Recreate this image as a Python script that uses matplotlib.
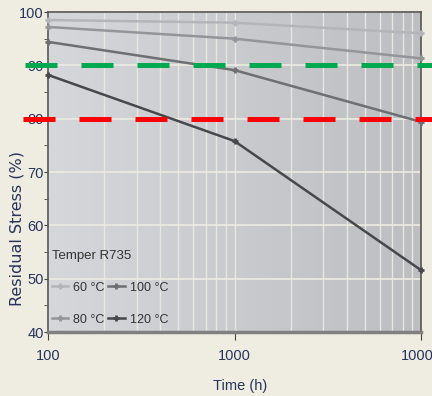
import numpy as np
import matplotlib
matplotlib.use("Agg")
import matplotlib.pyplot as plt
import matplotlib.transforms as mtransforms
from matplotlib.lines import Line2D
from matplotlib.ticker import FixedLocator, NullFormatter

# data
hours = [100, 1000, 10000]
temps = ["60 °C", "80 °C", "100 °C", "120 °C"]
stress_60 = [98.5, 98.0, 96.0]
stress_80 = [97.2, 95.0, 91.3]
stress_100 = [94.4, 89.1, 79.4]
stress_120 = [88.2, 75.8, 51.6]
limit_green = 90
limit_red = 80

colors = ["#b4b5b9", "#949599", "#6e6f73", "#47484c"]
series = [stress_60, stress_80, stress_100, stress_120]

plt.rcParams["font.family"] = ["Liberation Sans", "DejaVu Sans"]
navy = "#27355e"

fig = plt.figure(figsize=(4.32, 3.96), dpi=100, facecolor="#efece1")
ax = fig.add_axes([48 / 432, 64 / 396, 373 / 432, 320 / 396])

# grey gradient background
grad = np.linspace(0, 1, 256).reshape(1, -1)
ax.imshow(grad, extent=[0, 1, 0, 1], transform=ax.transAxes, aspect="auto",
          cmap=matplotlib.colors.LinearSegmentedColormap.from_list("bg", ["#d6d7db", "#bdbec2"]),
          zorder=0)

ax.set_xscale("log")
ax.set_xlim(100, 10000)
ax.set_ylim(40, 100)

ax.grid(which="both", axis="x", color="#e8e7de", lw=1.0, zorder=1)
ax.grid(which="major", axis="y", color="#ecebe2", lw=1.2, zorder=1)
ax.set_axisbelow(True)

for vals, c, lab in zip(series, colors, temps):
    ax.plot(hours, vals, color=c, lw=1.8, marker="+", ms=5, mew=2.0,
            label=lab, zorder=3, clip_on=False)

# dashed limit lines run across the whole figure width, over the tick labels
blend = mtransforms.blended_transform_factory(fig.transFigure, ax.transData)
fig.add_artist(Line2D([1 / 432, 1.02], [limit_green, limit_green], transform=blend,
                      color="#00a850", lw=3.6, linestyle=(6.4, (6.4, 4.8)),
                      dash_capstyle="butt", zorder=4))
fig.add_artist(Line2D([23 / 432, 1.02], [limit_red, limit_red], transform=blend,
                      color="#ff0000", lw=3.6, linestyle=(0, (6.4, 4.8)),
                      dash_capstyle="butt", zorder=4))

ax.set_yticks(range(40, 101, 10))
ax.yaxis.set_minor_locator(FixedLocator(range(45, 100, 10)))
ax.xaxis.set_minor_formatter(NullFormatter())
ax.set_xticks(hours)
ax.set_xticklabels(["100", "1000", "10000"])
ax.tick_params(axis="both", which="major", labelsize=10.5, labelcolor=navy,
               color="#444444", direction="out", length=3)
ax.tick_params(axis="y", which="minor", color="#444444", direction="out", length=3)
ax.tick_params(axis="x", which="minor", length=0)
ax.tick_params(axis="x", which="major", pad=6, length=6)
ax.tick_params(axis="y", which="major", pad=0)

for s in ["left", "top", "right"]:
    ax.spines[s].set_color("#555555")
    ax.spines[s].set_linewidth(1.2)
ax.spines["bottom"].set_color("#808080")
ax.spines["bottom"].set_linewidth(2.5)

ax.set_ylabel("Residual Stress (%)", color=navy, fontsize=11.5,
              family="DejaVu Sans")
ax.yaxis.set_label_coords(-23 / 373, (332 - 229) / 320)
ax.set_xlabel("Time (h)", color=navy, fontsize=10.5)
ax.xaxis.set_label_coords(0.515, -47 / 320)

leg = ax.legend(title="Temper R735", ncol=2, loc="lower left", frameon=False,
                fontsize=9, title_fontsize=9.5, handlelength=1.3,
                columnspacing=0.3, handletextpad=0.4, labelspacing=1.6,
                bbox_to_anchor=(-0.02, -0.015))
leg._legend_box.align = "left"
for t in leg.get_texts():
    t.set_color("#333333")
leg.get_title().set_color("#333333")

fig.savefig("out.png", dpi=100, facecolor=fig.get_facecolor())
